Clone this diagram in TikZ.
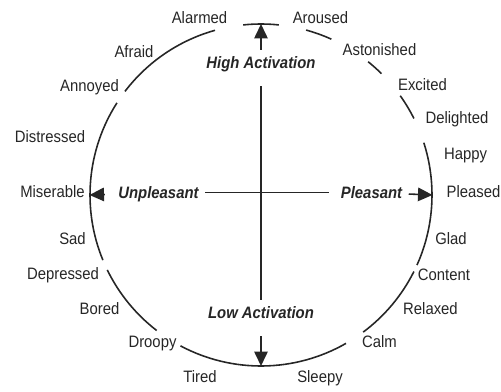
\documentclass[tikz,border=0pt]{standalone}
\usepackage{fontspec}
\setmainfont{Liberation Sans}[FakeStretch=0.9]
\usetikzlibrary{arrows.meta,positioning}
\definecolor{ink}{HTML}{262626}
\tikzset{
  emotion/.style={
    text=ink,
    inner sep=0pt,
    text height=6.7pt,
    text depth=0pt,
    font=\fontsize{9.4}{11}\selectfont
  },
  axislabel/.style={
    text=ink,
    fill=white,
    inner sep=3.6pt,
    text height=6.7pt,
    text depth=0pt,
    font=\fontsize{9.4}{11}\selectfont\bfseries\itshape
  },
  ringarc/.style={line width=0.9pt,draw=ink},
  axisline/.style={line width=0.9pt,draw=ink},
  axisarrow/.style={-{Triangle[length=2.9mm,width=2.7mm]},line width=0.9pt,draw=ink}
}

\begin{document}
\begin{tikzpicture}
  \useasboundingbox (-5.22,-3.92) rectangle (4.80,3.90);
  \def\rad{3.42}

  % the ring, broken where the words sit
  \foreach \a/\b in {84/96,105.6/142.7,147.4/202.4,206/232.4,241.9/299.8,
                     306.7/333.4,335.8/377.8,26.6/35.5,45.2/51.2,65.7/74.7}
    \draw[ringarc] (\a:\rad) arc[start angle=\a,end angle=\b,radius=\rad];

  % ends of the axes on the ring
  \coordinate (N) at (0,\rad);
  \coordinate (S) at (0,-\rad);
  \coordinate (W) at (-3.43,0);
  \coordinate (E) at (3.43,0);

  \node[axislabel] (high)  at (0,2.65)     {High Activation};
  \node[axislabel] (low)   at (0,-2.35)    {Low Activation};
  \node[axislabel] (unpl)  at (-2.05,0.05) {Unpleasant};
  \node[axislabel] (pleas) at (2.21,0.05)  {Pleasant};

  \draw[axisarrow] (high) -- (N);
  \draw[axisline, shorten <=0.22cm] (high) -- (low);
  \draw[axisarrow, shorten <=0.22cm] (low) -- (S);
  \draw[axisarrow, shorten <=0.14cm] (unpl) -- (W);
  \draw[axisline, shorten >=0.1cm] (unpl) -- (pleas);
  \draw[axisarrow] (pleas) -- (E);

  % words round the ring
  \node[emotion] (alarmed)    at (-1.23, 3.54) {Alarmed};
  \node[emotion] (aroused)    at ( 1.19, 3.54) {Aroused};
  \node[emotion] (afraid)     at (-2.54, 2.86) {Afraid};
  \node[emotion] (astonished) at ( 2.37, 2.90) {Astonished};
  \node[emotion] (annoyed)    at (-3.43, 2.19) {Annoyed};
  \node[emotion] (excited)    at ( 3.23, 2.20) {Excited};
  \node[emotion] (delighted)  at ( 3.92, 1.54) {Delighted};
  \node[emotion] (distressed) at (-4.22, 1.16) {Distressed};
  \node[emotion] (happy)      at ( 4.09, 0.82) {Happy};
  \node[emotion] (miserable)  at (-4.17, 0.07) {Miserable};
  \node[emotion] (pleased)    at ( 4.25, 0.06) {Pleased};
  \node[emotion] (sad)        at (-3.77,-0.88) {Sad};
  \node[emotion] (glad)       at ( 3.80,-0.87) {Glad};
  \node[emotion] (depressed)  at (-3.96,-1.58) {Depressed};
  \node[emotion] (content)    at ( 3.66,-1.59) {Content};
  \node[emotion] (bored)      at (-3.23,-2.28) {Bored};
  \node[emotion] (relaxed)    at ( 3.39,-2.28) {Relaxed};
  \node[emotion] (droopy)     at (-2.17,-2.94) {Droopy};
  \node[emotion] (calm)       at ( 2.37,-2.94) {Calm};
  \node[emotion] (tired)      at (-1.22,-3.64) {Tired};
  \node[emotion] (sleepy)     at ( 1.18,-3.64) {Sleepy};
\end{tikzpicture}
\end{document}
